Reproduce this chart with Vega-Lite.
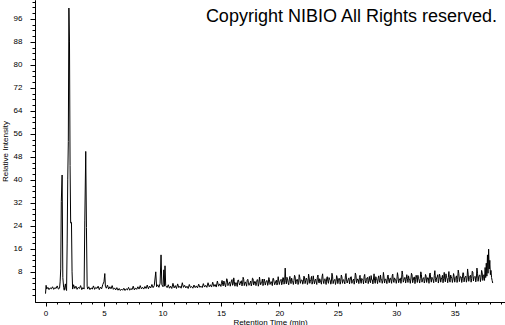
{
  "$schema": "https://vega.github.io/schema/vega-lite/v6.json",
  "width": 470,
  "height": 302,
  "autosize": {"type": "none"},
  "padding": {"left": 35, "top": 0, "right": 0, "bottom": 23},
  "background": "white",
  "title": {"text": "Copyright NIBIO All Rights reserved.", "anchor": "end", "frame": "group", "orient": "top", "baseline": "alphabetic", "offset": 0, "dy": 40, "dx": -8, "fontSize": 18, "font": "Liberation Sans", "fontWeight": "normal", "color": "black"},
  "config": {"view": {"stroke": null}, "axis": {"grid": false, "domainColor": "black", "tickColor": "black", "labelColor": "black", "titleColor": "black", "labelFont": "Liberation Sans", "titleFont": "Liberation Sans", "labelFontSize": 8, "titleFontSize": 8, "titleFontWeight": "normal", "domainWidth": 1, "tickWidth": 1}},
  "data": {"values": [
    {"t":0.0,"v":0.4},{"t":0.05,"v":3.3},{"t":0.1,"v":2.0},{"t":0.2,"v":2.6},{"t":0.3,"v":1.8},{"t":0.4,"v":2.4},{"t":0.5,"v":2.1},{"t":0.6,"v":2.8},{"t":0.7,"v":1.9},{"t":0.8,"v":2.5},{"t":0.9,"v":2.2},{"t":1.0,"v":3.1},{"t":1.1,"v":2.0},{"t":1.2,"v":2.3},
    {"t":1.25,"v":4.5},{"t":1.3,"v":9.0},{"t":1.35,"v":32.5},{"t":1.42,"v":41.7},{"t":1.48,"v":6},{"t":1.55,"v":2.5},{"t":1.6,"v":1.6},{"t":1.7,"v":3.8},{"t":1.75,"v":2.0},{"t":1.8,"v":1.5},
    {"t":1.85,"v":17.7},{"t":1.9,"v":40},{"t":1.95,"v":53.3},{"t":2.0,"v":99.8},{"t":2.05,"v":88},{"t":2.1,"v":45},{"t":2.15,"v":25},{"t":2.22,"v":25.2},{"t":2.27,"v":8},{"t":2.32,"v":2.0},
    {"t":2.4,"v":3.5},{"t":2.5,"v":2.2},{"t":2.6,"v":3.0},{"t":2.7,"v":1.9},{"t":2.8,"v":2.6},{"t":2.9,"v":2.2},{"t":3.0,"v":3.2},{"t":3.1,"v":1.8},{"t":3.2,"v":2.5},{"t":3.3,"v":2.0},
    {"t":3.36,"v":26},{"t":3.44,"v":49.9},{"t":3.5,"v":23.4},{"t":3.56,"v":3},{"t":3.6,"v":2.0},{"t":3.7,"v":2.8},{"t":3.8,"v":1.8},{"t":3.9,"v":2.4},{"t":4.0,"v":2.0},{"t":4.1,"v":3.1},{"t":4.2,"v":1.9},{"t":4.3,"v":2.6},{"t":4.4,"v":2.2},{"t":4.5,"v":3.0},{"t":4.6,"v":1.8},{"t":4.7,"v":2.7},{"t":4.8,"v":2.1},{"t":4.9,"v":3.6},
    {"t":5.0,"v":4.5},{"t":5.07,"v":7.4},{"t":5.12,"v":3.0},{"t":5.2,"v":2.3},{"t":5.3,"v":3.4},{"t":5.4,"v":2.0},{"t":5.5,"v":2.8},{"t":5.6,"v":2.1},{"t":5.7,"v":3.2},{"t":5.8,"v":1.9},{"t":5.9,"v":2.4},
    {"t":6.0,"v":1.7},{"t":6.1,"v":2.5},{"t":6.2,"v":1.6},{"t":6.3,"v":2.2},{"t":6.4,"v":1.5},{"t":6.5,"v":2.0},{"t":6.6,"v":1.6},{"t":6.7,"v":2.3},{"t":6.8,"v":1.5},{"t":6.9,"v":2.1},
    {"t":7.0,"v":1.7},{"t":7.1,"v":2.6},{"t":7.2,"v":1.6},{"t":7.3,"v":2.2},{"t":7.4,"v":1.8},{"t":7.5,"v":3.0},{"t":7.6,"v":1.7},{"t":7.7,"v":2.4},{"t":7.8,"v":1.9},{"t":7.9,"v":2.8},
    {"t":8.0,"v":2.0},{"t":8.1,"v":3.2},{"t":8.2,"v":2.1},{"t":8.3,"v":2.6},{"t":8.4,"v":2.0},{"t":8.5,"v":2.9},{"t":8.6,"v":2.2},{"t":8.7,"v":3.4},{"t":8.8,"v":2.1},{"t":8.9,"v":3.0},
    {"t":9.0,"v":2.4},{"t":9.1,"v":3.6},{"t":9.2,"v":2.5},{"t":9.3,"v":3.2},{"t":9.43,"v":8.0},{"t":9.5,"v":2.8},{"t":9.6,"v":3.5},{"t":9.7,"v":2.6},{"t":9.8,"v":4.0},{"t":9.88,"v":13.9},{"t":9.95,"v":3.5},
    {"t":10.05,"v":2.8},{"t":10.12,"v":8.7},{"t":10.17,"v":3.0},{"t":10.22,"v":10.1},{"t":10.28,"v":3.2},{"t":10.4,"v":2.5},{"t":10.5,"v":3.5},{"t":10.6,"v":2.3},{"t":10.7,"v":3.0},{"t":10.8,"v":2.2},{"t":10.9,"v":4.0},
    {"t":11.0,"v":2.4},{"t":11.1,"v":3.2},{"t":11.2,"v":2.2},{"t":11.3,"v":3.8},{"t":11.4,"v":2.5},{"t":11.5,"v":3.0},{"t":11.6,"v":2.3},{"t":11.7,"v":4.2},{"t":11.8,"v":2.6},{"t":11.9,"v":3.3},
    {"t":12.0,"v":2.4},{"t":12.1,"v":3.0},{"t":12.2,"v":2.2},{"t":12.3,"v":3.6},{"t":12.4,"v":2.5},{"t":12.5,"v":2.9},{"t":12.6,"v":2.3},{"t":12.7,"v":3.4},{"t":12.8,"v":2.5},{"t":12.9,"v":3.1},
    {"t":13.0,"v":2.4},{"t":13.1,"v":3.7},{"t":13.2,"v":2.6},{"t":13.3,"v":3.0},{"t":13.4,"v":2.5},{"t":13.5,"v":3.9},{"t":13.6,"v":2.7},{"t":13.7,"v":3.3},{"t":13.8,"v":2.6},{"t":13.9,"v":4.2},
    {"t":14.0,"v":2.8},{"t":14.1,"v":3.5},{"t":14.2,"v":2.7},{"t":14.3,"v":4.4},{"t":14.4,"v":2.9},{"t":14.5,"v":3.6},{"t":14.6,"v":2.7},{"t":14.7,"v":4.8},{"t":14.8,"v":3.0},{"t":14.9,"v":3.8},
    {"t":15.0,"v":2.9},{"t":15.1,"v":5.0},{"t":15.2,"v":3.1},{"t":15.3,"v":4.4},{"t":15.4,"v":2.8},{"t":15.5,"v":5.6},{"t":15.6,"v":3.2},{"t":15.7,"v":4.1},{"t":15.8,"v":3.0},{"t":15.9,"v":4.8},
    {"t":16.0,"v":3.3},{"t":16.1,"v":5.9},{"t":16.2,"v":3.0},{"t":16.3,"v":4.3},{"t":16.4,"v":2.9},{"t":16.5,"v":5.2},{"t":16.6,"v":3.4},{"t":16.7,"v":4.6},{"t":16.8,"v":3.1},{"t":16.9,"v":6.1},
    {"t":17.0,"v":3.2},{"t":17.1,"v":4.5},{"t":17.2,"v":3.0},{"t":17.3,"v":5.4},{"t":17.4,"v":3.3},{"t":17.5,"v":4.2},{"t":17.6,"v":3.1},{"t":17.7,"v":5.8},{"t":17.8,"v":3.4},{"t":17.9,"v":4.7},
    {"t":18.0,"v":3.2},{"t":18.1,"v":5.3},{"t":18.2,"v":3.0},{"t":18.3,"v":6.2},{"t":18.4,"v":3.5},{"t":18.5,"v":4.4},{"t":18.6,"v":3.2},{"t":18.7,"v":5.5},{"t":18.8,"v":3.4},{"t":18.9,"v":4.9},
    {"t":19.0,"v":3.3},{"t":19.1,"v":6.0},{"t":19.2,"v":3.6},{"t":19.3,"v":4.6},{"t":19.4,"v":3.2},{"t":19.5,"v":5.7},{"t":19.6,"v":3.5},{"t":19.7,"v":4.8},{"t":19.8,"v":3.4},{"t":19.9,"v":6.3},
    {"t":20.0,"v":3.6},{"t":20.1,"v":5.1},{"t":20.2,"v":3.5},{"t":20.3,"v":6.0},{"t":20.4,"v":3.7},{"t":20.5,"v":9.3},{"t":20.6,"v":3.8},{"t":20.7,"v":5.6},{"t":20.8,"v":3.5},{"t":20.9,"v":6.4},
    {"t":21.0,"v":3.9},{"t":21.1,"v":5.0},{"t":21.2,"v":3.6},{"t":21.3,"v":6.8},{"t":21.4,"v":3.8},{"t":21.5,"v":5.4},{"t":21.6,"v":3.6},{"t":21.7,"v":7.0},{"t":21.8,"v":4.0},{"t":21.9,"v":5.2},
    {"t":22.0,"v":3.7},{"t":22.1,"v":6.5},{"t":22.2,"v":3.9},{"t":22.3,"v":5.8},{"t":22.4,"v":3.6},{"t":22.5,"v":7.2},{"t":22.6,"v":4.0},{"t":22.7,"v":5.3},{"t":22.8,"v":3.7},{"t":22.9,"v":6.6},
    {"t":23.0,"v":3.8},{"t":23.1,"v":5.5},{"t":23.2,"v":3.6},{"t":23.3,"v":6.9},{"t":23.4,"v":4.1},{"t":23.5,"v":5.1},{"t":23.6,"v":3.7},{"t":23.7,"v":7.3},{"t":23.8,"v":3.9},{"t":23.9,"v":5.6},
    {"t":24.0,"v":3.6},{"t":24.1,"v":6.3},{"t":24.2,"v":4.0},{"t":24.3,"v":5.4},{"t":24.4,"v":3.7},{"t":24.5,"v":7.5},{"t":24.6,"v":3.9},{"t":24.7,"v":5.2},{"t":24.8,"v":3.6},{"t":24.9,"v":6.7},
    {"t":25.0,"v":3.9},{"t":25.1,"v":5.8},{"t":25.2,"v":3.7},{"t":25.3,"v":6.9},{"t":25.4,"v":4.0},{"t":25.5,"v":5.3},{"t":25.6,"v":3.8},{"t":25.7,"v":7.4},{"t":25.8,"v":4.1},{"t":25.9,"v":5.6},
    {"t":26.0,"v":3.8},{"t":26.1,"v":6.2},{"t":26.2,"v":4.0},{"t":26.3,"v":5.1},{"t":26.4,"v":3.7},{"t":26.5,"v":7.6},{"t":26.6,"v":4.2},{"t":26.7,"v":5.5},{"t":26.8,"v":3.9},{"t":26.9,"v":6.8},
    {"t":27.0,"v":4.0},{"t":27.1,"v":5.4},{"t":27.2,"v":3.8},{"t":27.3,"v":7.1},{"t":27.4,"v":4.1},{"t":27.5,"v":5.9},{"t":27.6,"v":3.9},{"t":27.7,"v":6.4},{"t":27.8,"v":4.2},{"t":27.9,"v":5.2},
    {"t":28.0,"v":3.8},{"t":28.1,"v":7.3},{"t":28.2,"v":4.0},{"t":28.3,"v":5.7},{"t":28.4,"v":3.9},{"t":28.5,"v":6.6},{"t":28.6,"v":4.3},{"t":28.7,"v":5.3},{"t":28.8,"v":4.0},{"t":28.9,"v":7.8},
    {"t":29.0,"v":4.1},{"t":29.1,"v":5.5},{"t":29.2,"v":3.9},{"t":29.3,"v":6.9},{"t":29.4,"v":4.2},{"t":29.5,"v":5.8},{"t":29.6,"v":4.0},{"t":29.7,"v":7.2},{"t":29.8,"v":4.3},{"t":29.9,"v":5.4},
    {"t":30.0,"v":4.0},{"t":30.1,"v":7.7},{"t":30.2,"v":4.2},{"t":30.3,"v":5.6},{"t":30.4,"v":4.0},{"t":30.5,"v":8.3},{"t":30.6,"v":4.4},{"t":30.7,"v":5.9},{"t":30.8,"v":4.1},{"t":30.9,"v":7.0},
    {"t":31.0,"v":4.3},{"t":31.1,"v":5.5},{"t":31.2,"v":4.0},{"t":31.3,"v":7.5},{"t":31.4,"v":4.2},{"t":31.5,"v":6.1},{"t":31.6,"v":3.9},{"t":31.7,"v":6.8},{"t":31.8,"v":4.3},{"t":31.9,"v":5.7},
    {"t":32.0,"v":4.1},{"t":32.1,"v":8.0},{"t":32.2,"v":4.4},{"t":32.3,"v":5.8},{"t":32.4,"v":4.1},{"t":32.5,"v":7.1},{"t":32.6,"v":4.3},{"t":32.7,"v":6.0},{"t":32.8,"v":4.0},{"t":32.9,"v":7.6},
    {"t":33.0,"v":4.4},{"t":33.1,"v":5.6},{"t":33.2,"v":4.2},{"t":33.3,"v":8.4},{"t":33.4,"v":4.5},{"t":33.5,"v":6.2},{"t":33.6,"v":4.1},{"t":33.7,"v":7.2},{"t":33.8,"v":4.4},{"t":33.9,"v":5.9},
    {"t":34.0,"v":4.2},{"t":34.1,"v":7.8},{"t":34.2,"v":4.5},{"t":34.3,"v":6.0},{"t":34.4,"v":4.2},{"t":34.5,"v":8.1},{"t":34.6,"v":4.4},{"t":34.7,"v":6.3},{"t":34.8,"v":4.3},{"t":34.9,"v":7.4},
    {"t":35.0,"v":4.4},{"t":35.1,"v":6.1},{"t":35.2,"v":4.3},{"t":35.3,"v":8.6},{"t":35.4,"v":4.6},{"t":35.5,"v":6.4},{"t":35.6,"v":4.3},{"t":35.7,"v":7.7},{"t":35.8,"v":4.5},{"t":35.9,"v":6.2},
    {"t":36.0,"v":4.4},{"t":36.1,"v":9.0},{"t":36.2,"v":4.7},{"t":36.3,"v":6.5},{"t":36.4,"v":4.4},{"t":36.5,"v":8.2},{"t":36.6,"v":4.8},{"t":36.7,"v":6.3},{"t":36.8,"v":4.5},{"t":36.9,"v":9.3},
    {"t":37.0,"v":4.7},{"t":37.1,"v":6.8},{"t":37.2,"v":4.6},{"t":37.3,"v":8.5},{"t":37.4,"v":5.0},{"t":37.5,"v":7.0},{"t":37.55,"v":5.0},{"t":37.6,"v":9.5},{"t":37.65,"v":6.0},{"t":37.7,"v":11.0},
    {"t":37.75,"v":6.5},{"t":37.8,"v":13.9},{"t":37.85,"v":7.5},{"t":37.9,"v":15.9},{"t":37.95,"v":9.0},{"t":38.0,"v":12.0},{"t":38.05,"v":7.0},{"t":38.1,"v":8.5},{"t":38.15,"v":6.0},{"t":38.2,"v":5.0},{"t":38.25,"v":4.1},
    {"t":15.05,"v":4.0},{"t":15.15,"v":3.6},{"t":15.25,"v":4.8},{"t":15.35,"v":3.4},{"t":15.45,"v":4.2},{"t":15.55,"v":5.1},{"t":15.65,"v":3.7},{"t":15.75,"v":4.5},{"t":15.85,"v":3.9},{"t":15.95,"v":5.3},
    {"t":16.05,"v":3.8},{"t":16.15,"v":4.6},{"t":16.25,"v":4.1},{"t":16.35,"v":3.5},{"t":16.45,"v":5.0},{"t":16.55,"v":4.3},{"t":16.65,"v":3.9},{"t":16.75,"v":4.9},{"t":16.85,"v":3.6},{"t":16.95,"v":5.4},
    {"t":17.05,"v":4.2},{"t":17.15,"v":3.8},{"t":17.25,"v":5.1},{"t":17.35,"v":4.4},{"t":17.45,"v":3.7},{"t":17.55,"v":4.8},{"t":17.65,"v":4.0},{"t":17.75,"v":5.6},{"t":17.85,"v":3.9},{"t":17.95,"v":4.5},
    {"t":18.05,"v":4.3},{"t":18.15,"v":5.2},{"t":18.25,"v":3.8},{"t":18.35,"v":4.7},{"t":18.45,"v":4.1},{"t":18.55,"v":5.5},{"t":18.65,"v":3.9},{"t":18.75,"v":4.6},{"t":18.85,"v":4.4},{"t":18.95,"v":5.0},
    {"t":19.05,"v":4.0},{"t":19.15,"v":5.3},{"t":19.25,"v":4.2},{"t":19.35,"v":3.9},{"t":19.45,"v":5.7},{"t":19.55,"v":4.5},{"t":19.65,"v":4.1},{"t":19.75,"v":5.1},{"t":19.85,"v":4.3},{"t":19.95,"v":4.8},
    {"t":20.05,"v":4.6},{"t":20.15,"v":5.4},{"t":20.25,"v":4.2},{"t":20.35,"v":5.9},{"t":20.45,"v":4.4},{"t":20.55,"v":4.9},{"t":20.65,"v":6.1},{"t":20.75,"v":4.3},{"t":20.85,"v":5.2},{"t":20.95,"v":4.7},
    {"t":21.05,"v":5.8},{"t":21.15,"v":4.5},{"t":21.25,"v":5.0},{"t":21.35,"v":6.3},{"t":21.45,"v":4.6},{"t":21.55,"v":5.3},{"t":21.65,"v":4.4},{"t":21.75,"v":6.0},{"t":21.85,"v":4.8},{"t":21.95,"v":5.1},
    {"t":22.05,"v":4.5},{"t":22.15,"v":6.2},{"t":22.25,"v":4.9},{"t":22.35,"v":5.5},{"t":22.45,"v":4.3},{"t":22.55,"v":5.9},{"t":22.65,"v":4.7},{"t":22.75,"v":6.4},{"t":22.85,"v":4.6},{"t":22.95,"v":5.2},
    {"t":23.05,"v":5.0},{"t":23.15,"v":4.5},{"t":23.25,"v":6.1},{"t":23.35,"v":4.8},{"t":23.45,"v":5.6},{"t":23.55,"v":4.4},{"t":23.65,"v":6.3},{"t":23.75,"v":4.9},{"t":23.85,"v":5.3},{"t":23.95,"v":4.6},
    {"t":24.05,"v":5.8},{"t":24.15,"v":4.7},{"t":24.25,"v":6.0},{"t":24.35,"v":5.1},{"t":24.45,"v":4.5},{"t":24.55,"v":6.5},{"t":24.65,"v":4.8},{"t":24.75,"v":5.4},{"t":24.85,"v":4.6},{"t":24.95,"v":5.9},
    {"t":25.05,"v":4.9},{"t":25.15,"v":5.6},{"t":25.25,"v":4.7},{"t":25.35,"v":6.2},{"t":25.45,"v":5.0},{"t":25.55,"v":4.6},{"t":25.65,"v":6.6},{"t":25.75,"v":5.2},{"t":25.85,"v":4.8},{"t":25.95,"v":5.9},
    {"t":26.05,"v":5.1},{"t":26.15,"v":6.3},{"t":26.25,"v":4.7},{"t":26.35,"v":5.5},{"t":26.45,"v":5.0},{"t":26.55,"v":6.8},{"t":26.65,"v":4.9},{"t":26.75,"v":5.3},{"t":26.85,"v":6.0},{"t":26.95,"v":4.8},
    {"t":27.05,"v":5.7},{"t":27.15,"v":5.1},{"t":27.25,"v":6.4},{"t":27.35,"v":4.9},{"t":27.45,"v":5.4},{"t":27.55,"v":6.1},{"t":27.65,"v":5.0},{"t":27.75,"v":4.7},{"t":27.85,"v":6.7},{"t":27.95,"v":5.2},
    {"t":28.05,"v":5.5},{"t":28.15,"v":4.9},{"t":28.25,"v":6.3},{"t":28.35,"v":5.1},{"t":28.45,"v":5.8},{"t":28.55,"v":4.8},{"t":28.65,"v":6.9},{"t":28.75,"v":5.3},{"t":28.85,"v":5.0},{"t":28.95,"v":6.2},
    {"t":29.05,"v":5.4},{"t":29.15,"v":4.9},{"t":29.25,"v":6.5},{"t":29.35,"v":5.2},{"t":29.45,"v":5.7},{"t":29.55,"v":5.0},{"t":29.65,"v":6.6},{"t":29.75,"v":4.8},{"t":29.85,"v":5.9},{"t":29.95,"v":5.3},
    {"t":30.05,"v":5.2},{"t":30.15,"v":6.4},{"t":30.25,"v":4.9},{"t":30.35,"v":5.8},{"t":30.45,"v":5.4},{"t":30.55,"v":7.0},{"t":30.65,"v":5.0},{"t":30.75,"v":6.1},{"t":30.85,"v":5.3},{"t":30.95,"v":5.7},
    {"t":31.05,"v":6.6},{"t":31.15,"v":5.1},{"t":31.25,"v":5.5},{"t":31.35,"v":6.9},{"t":31.45,"v":5.0},{"t":31.55,"v":6.2},{"t":31.65,"v":5.4},{"t":31.75,"v":5.9},{"t":31.85,"v":6.8},{"t":31.95,"v":5.2},
    {"t":32.05,"v":5.6},{"t":32.15,"v":7.1},{"t":32.25,"v":5.3},{"t":32.35,"v":6.0},{"t":32.45,"v":5.1},{"t":32.55,"v":6.5},{"t":32.65,"v":5.5},{"t":32.75,"v":5.8},{"t":32.85,"v":7.2},{"t":32.95,"v":5.4},
    {"t":33.05,"v":6.1},{"t":33.15,"v":5.2},{"t":33.25,"v":6.7},{"t":33.35,"v":5.6},{"t":33.45,"v":5.9},{"t":33.55,"v":7.0},{"t":33.65,"v":5.3},{"t":33.75,"v":6.3},{"t":33.85,"v":5.5},{"t":33.95,"v":6.8},
    {"t":34.05,"v":5.7},{"t":34.15,"v":5.4},{"t":34.25,"v":7.3},{"t":34.35,"v":5.6},{"t":34.45,"v":6.0},{"t":34.55,"v":5.2},{"t":34.65,"v":6.9},{"t":34.75,"v":5.8},{"t":34.85,"v":5.5},{"t":34.95,"v":6.4},
    {"t":35.05,"v":5.7},{"t":35.15,"v":6.6},{"t":35.25,"v":5.4},{"t":35.35,"v":7.4},{"t":35.45,"v":5.8},{"t":35.55,"v":6.2},{"t":35.65,"v":5.6},{"t":35.75,"v":7.6},{"t":35.85,"v":5.9},{"t":35.95,"v":6.5},
    {"t":36.05,"v":5.5},{"t":36.15,"v":7.2},{"t":36.25,"v":6.0},{"t":36.35,"v":6.8},{"t":36.45,"v":5.7},{"t":36.55,"v":7.9},{"t":36.65,"v":6.1},{"t":36.75,"v":6.4},{"t":36.85,"v":5.8},{"t":36.95,"v":7.5},
    {"t":37.05,"v":6.2},{"t":37.15,"v":6.9},{"t":37.25,"v":5.9},{"t":37.35,"v":7.7},{"t":37.45,"v":6.3}
  ]},
  "layer": [
    {
      "mark": {"type": "line", "color": "black", "strokeWidth": 1, "interpolate": "linear"},
      "encoding": {
        "x": {"field": "t", "type": "quantitative", "sort": "ascending", "scale": {"domain": [-0.9, 39.3], "nice": false, "zero": false},
              "axis": {"values": [0,5,10,15,20,25,30,35], "tickSize": 4, "labelPadding": 3, "title": "Retention Time (min)", "titlePadding": 1, "labelFlush": false}},
        "y": {"field": "v", "type": "quantitative", "scale": {"domain": [-2.5, 102.6], "nice": false, "zero": false},
              "axis": {"values": [8,16,24,32,40,48,56,64,72,80,88,96], "tickSize": 5, "labelPadding": 8, "title": "Relative Intensity", "titlePadding": 4, "labelFlush": false}}
      }
    },
    {
      "mark": {"type": "line", "opacity": 0},
      "encoding": {
        "x": {"field": "t", "type": "quantitative", "scale": {"domain": [-0.9, 39.3], "nice": false, "zero": false},
              "axis": {"orient": "bottom", "values": [0,1,2,3,4,5,6,7,8,9,10,11,12,13,14,15,16,17,18,19,20,21,22,23,24,25,26,27,28,29,30,31,32,33,34,35,36,37,38,39], "tickSize": 2, "labels": false, "title": null}},
        "y": {"field": "v", "type": "quantitative", "scale": {"domain": [-2.5, 102.6], "nice": false, "zero": false},
              "axis": {"orient": "left", "values": [0,2,4,6,8,10,12,14,16,18,20,22,24,26,28,30,32,34,36,38,40,42,44,46,48,50,52,54,56,58,60,62,64,66,68,70,72,74,76,78,80,82,84,86,88,90,92,94,96,98,100,102], "tickSize": 3, "labels": false, "title": null}}
      }
    }
  ],
  "resolve": {"axis": {"x": "independent", "y": "independent"}}
}
